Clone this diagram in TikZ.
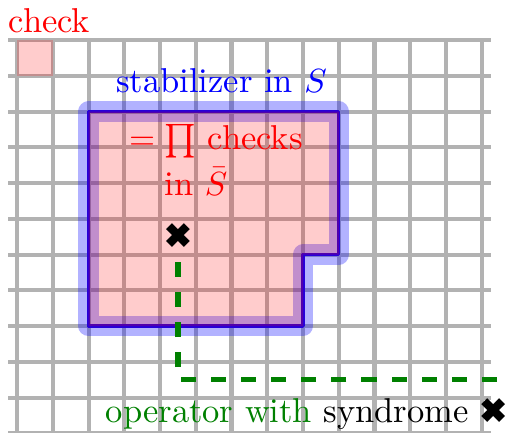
\documentclass[tikz,border=0pt]{standalone}
\usepackage{amsmath}
\usepackage{pifont}
\usetikzlibrary{positioning}
\tikzset{
  lbl/.style={inner sep=0pt,font=\fontsize{10.3pt}{12.4pt}\selectfont},
  region/.style={line join=round},
  opline/.style={green!50!black,line width=1.6pt,dash pattern=on 4.5pt off 4.5pt}
}

\begin{document}
\begin{tikzpicture}[x=0.375cm,y=0.375cm]
    \useasboundingbox (-0.476,-0.97) rectangle (13.79,11.12);
    \draw[gray!60,line width=1.2pt,step=1] (-0.25,-1) grid (13.25,10);

    % stabilizer region
    \draw[region,blue,opacity=0.3,line width=6pt] (2,8) -- (9,8) -- (9,4) -- (8,4) -- (8,2) -- (2,2) -- cycle;
    \draw[region,blue!85!red,line width=1pt] (2,8) -- (9,8) -- (9,4) -- (8,4) -- (8,2) -- (2,2) -- cycle;
    \fill[red,opacity=0.2] (2,8) -- (9,8) -- (9,4) -- (8,4) -- (8,2) -- (2,2) -- cycle;
    \fill[red,opacity=0.2] (0,9) rectangle (1,10);

    \node[lbl,red,anchor=base west]  (check) at (-0.25,10.2) {check};
    \node[lbl,blue,anchor=base]      (stab)  at (5.72,8.52) {stabilizer in $S$};
    \node[lbl,red,anchor=base west,align=left] (prod) at (3.12,5.66)
          {$=\prod$ checks\\[1.3pt]$\hphantom{=}\;$in $\bar S$};

    \node[lbl] (err) at (4.5,4.52) {\ding{54}};
    \coordinate (synd) at (13.43,0.5);
    \draw[opline] (synd) -| (err);

    \node[lbl,anchor=base east] (oplbl) at (13.71,-0.69)
          {\textcolor{green!50!black}{operator with} syndrome \ding{54}};
\end{tikzpicture}
\end{document}
